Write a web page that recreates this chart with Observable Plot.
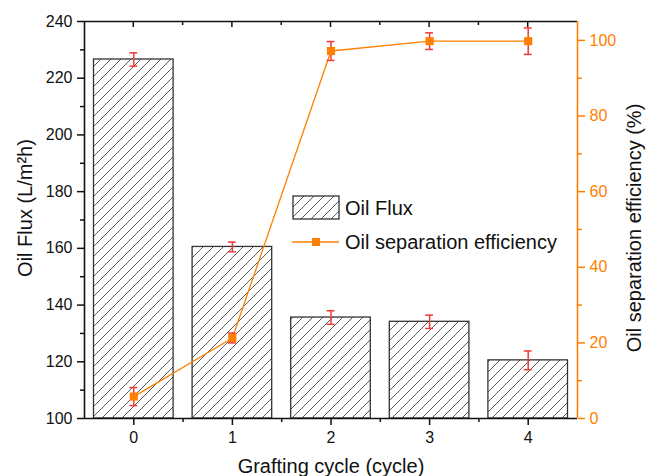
<!DOCTYPE html>
<html>
<head>
<meta charset="utf-8">
<script src="https://cdn.jsdelivr.net/npm/d3@7"></script>
<script src="https://cdn.jsdelivr.net/npm/@observablehq/plot@0.6"></script>
<style>
  html, body { margin: 0; padding: 0; background: #fff; }
  #chart svg { display: block; }
</style>
</head>
<body>
<div id="chart"></div>
<script>
// ---- data ----
const cycles = [0, 1, 2, 3, 4];
const fluxValues = [226.6, 160.5, 135.6, 134.1, 120.5];
const fluxErrors = [2.35, 1.7, 2.4, 2.35, 3.3];
const efficiencyValues = [5.8, 21.3, 97.2, 99.8, 99.8];
const efficiencyErrors = [2.4, 1.3, 2.5, 2.2, 3.5];
const leftTicks = [100, 120, 140, 160, 180, 200, 220, 240];
const leftMinorTicks = [110, 130, 150, 170, 190, 210, 230];
const rightTicks = [0, 20, 40, 60, 80, 100];
const rightMinorTicks = [10, 30, 50, 70, 90];
const xMinorTicks = [0.5, 1.5, 2.5, 3.5];

const yDomain = [100, 240];
const rightDomain = [0, 105];
const orange = "#ff8000";
const red = "#f03a3a";

// map right-axis values onto the left scale
const toLeft = v => yDomain[0] + (v - rightDomain[0]) * (yDomain[1] - yDomain[0]) / (rightDomain[1] - rightDomain[0]);
const fromLeft = y => rightDomain[0] + (y - yDomain[0]) * (rightDomain[1] - rightDomain[0]) / (yDomain[1] - yDomain[0]);

const flux = cycles.map((c, i) => ({c, v: fluxValues[i], e: fluxErrors[i]}));
const eff = cycles.map((c, i) => ({c, v: efficiencyValues[i], e: efficiencyErrors[i]}));

const font = "'Liberation Sans', Arial, Helvetica, sans-serif";

const plot = Plot.plot({
  width: 647,
  height: 476,
  marginTop: 21,
  marginBottom: 58,
  marginLeft: 84,
  marginRight: 70,
  style: {fontFamily: font, fontSize: "16px", color: "#111", background: "#fff"},
  x: {domain: [-0.5, 4.5]},
  y: {domain: yDomain},
  marks: [
    // bars
    Plot.rectY(flux, {
      x1: d => d.c - 0.5, x2: d => d.c + 0.5,
      y1: () => yDomain[0], y2: "v",
      insetLeft: 9.5, insetRight: 9.5,
      fill: "url(#hatch)", stroke: "#333", strokeWidth: 1.3
    }),
    // bar error bars
    Plot.ruleX(flux, {x: "c", y1: d => d.v - d.e, y2: d => d.v + d.e, stroke: red, strokeWidth: 1.5}),
    Plot.ruleY(flux, {y: d => d.v - d.e, x1: d => d.c - 0.04, x2: d => d.c + 0.04, stroke: red, strokeWidth: 1.5}),
    Plot.ruleY(flux, {y: d => d.v + d.e, x1: d => d.c - 0.04, x2: d => d.c + 0.04, stroke: red, strokeWidth: 1.5}),
    // efficiency line
    Plot.line(eff, {x: "c", y: d => toLeft(d.v), stroke: orange, strokeWidth: 1.3}),
    Plot.ruleX(eff, {x: "c", y1: d => toLeft(d.v - d.e), y2: d => toLeft(d.v + d.e), stroke: red, strokeWidth: 1.5}),
    Plot.ruleY(eff, {y: d => toLeft(d.v - d.e), x1: d => d.c - 0.04, x2: d => d.c + 0.04, stroke: red, strokeWidth: 1.5}),
    Plot.ruleY(eff, {y: d => toLeft(d.v + d.e), x1: d => d.c - 0.04, x2: d => d.c + 0.04, stroke: red, strokeWidth: 1.5}),
    Plot.dot(eff, {x: "c", y: d => toLeft(d.v), symbol: "square", r: 4.6, fill: orange, stroke: null}),
    // frame lines
    Plot.ruleY([yDomain[1]], {stroke: "#111", strokeWidth: 1.6}),
    Plot.ruleX([-0.5], {stroke: "#111", strokeWidth: 1.6}),
    Plot.ruleY([yDomain[0]], {stroke: "#111", strokeWidth: 1.6}),
    Plot.ruleX([4.5], {stroke: orange, strokeWidth: 1.6}),
    // left axis
    Plot.axisY({ticks: leftTicks, tickSize: 7, tickPadding: 5, strokeWidth: 1.5, label: null, fontSize: 16}),
    Plot.axisY({ticks: leftMinorTicks, tickSize: 4, tickFormat: () => "", strokeWidth: 1.5, label: null}),
    // bottom axis
    Plot.axisX({ticks: cycles, tickSize: 7, tickPadding: 6, tickFormat: d3.format("d"), strokeWidth: 1.5, label: null, fontSize: 16}),
    Plot.axisX({ticks: xMinorTicks, tickSize: 4, tickFormat: () => "", strokeWidth: 1.5, label: null}),
    // right axis
    Plot.axisY({anchor: "right", ticks: rightTicks.map(toLeft), tickFormat: d => Math.round(fromLeft(d)), tickSize: 7, tickPadding: 5, strokeWidth: 1.5, color: orange, label: null, fontSize: 16}),
    Plot.axisY({anchor: "right", ticks: rightMinorTicks.map(toLeft), tickFormat: () => "", tickSize: 4, strokeWidth: 1.5, color: orange, label: null}),
    // axis titles
    Plot.text(["Oil Flux (L/m²h)"], {frameAnchor: "left", dx: -59, dy: -12, rotate: -90, textAnchor: "middle", lineAnchor: "middle", fontSize: 20, fill: "#111"}),
    Plot.text(["Oil separation efficiency (%)"], {frameAnchor: "right", dx: 57, dy: 8, rotate: -90, textAnchor: "middle", lineAnchor: "middle", fontSize: 20, fill: "#111"}),
    Plot.text(["Grafting cycle (cycle)"], {frameAnchor: "bottom", dy: 48.5, textAnchor: "middle", lineAnchor: "middle", fontSize: 20, fill: "#111"})
  ]
});

document.getElementById("chart").appendChild(plot);

const svg = d3.select(plot);

// top inward ticks, positioned with the plot's own scales
const xs = plot.scale("x"), ys = plot.scale("y");
const topY = ys.apply(yDomain[1]);
const tg = svg.append("g").attr("stroke", "#111").attr("stroke-width", 1.5);
cycles.forEach(c => tg.append("line")
  .attr("x1", xs.apply(c)).attr("x2", xs.apply(c)).attr("y1", topY).attr("y2", topY + 6));
xMinorTicks.forEach(c => tg.append("line")
  .attr("x1", xs.apply(c)).attr("x2", xs.apply(c)).attr("y1", topY).attr("y2", topY + 4));

// hatch pattern
const defs = svg.insert("defs", ":first-child");
const pat = defs.append("pattern")
  .attr("id", "hatch")
  .attr("patternUnits", "userSpaceOnUse")
  .attr("width", 10).attr("height", 10);
pat.append("rect").attr("width", 10).attr("height", 10).attr("fill", "#fff");
pat.append("path")
  .attr("d", "M-1,1 L1,-1 M0,10 L10,0 M9,11 L11,9")
  .attr("stroke", "#444").attr("stroke-width", 0.9).attr("fill", "none");

// legend
const lg = svg.append("g")
  .attr("font-family", font).attr("font-size", 20).attr("fill", "#111")
  .attr("text-anchor", "start");
lg.append("rect").attr("x", 293).attr("y", 196).attr("width", 46).attr("height", 23)
  .attr("fill", "url(#hatch)").attr("stroke", "#333").attr("stroke-width", 1.3);
lg.append("text").attr("x", 345).attr("y", 214.5).attr("text-anchor", "start").text("Oil Flux");
lg.append("line").attr("x1", 292).attr("x2", 339).attr("y1", 242).attr("y2", 242)
  .attr("stroke", orange).attr("stroke-width", 1.3);
lg.append("rect").attr("x", 312).attr("y", 238).attr("width", 8).attr("height", 8).attr("fill", orange);
lg.append("text").attr("x", 345).attr("y", 249).attr("text-anchor", "start").text("Oil separation efficiency");
</script>
</body>
</html>
